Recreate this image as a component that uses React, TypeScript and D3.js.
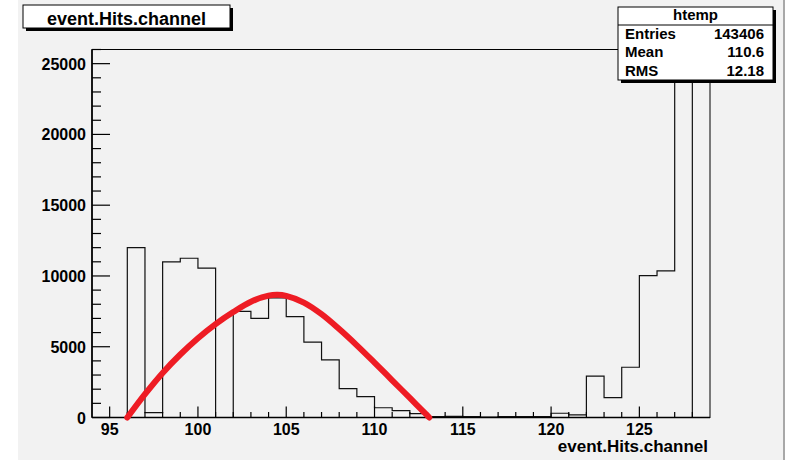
import React from 'react';
import * as d3 from 'd3';

// Histogram: unit bins starting at 94
const binStart = 94;
const binCounts = [
  0, 0, 12000, 350, 11000, 11250, 10550, 0, 7500, 7000,
  8450, 7130, 5320, 4070, 2040, 1470, 690, 480, 270, 60,
  80, 60, 30, 60, 60, 70, 300, 180, 2930, 1400,
  3550, 10030, 10360, 24760, 0,
];

// Fit curve
const fitX = [96.0, 97, 98, 99, 100, 101, 102, 103, 104, 104.5, 105, 106, 107, 108, 109, 110, 111, 112, 113, 113.1];
const fitY = [0, 1650, 3150, 4450, 5600, 6600, 7450, 8180, 8610, 8670, 8590, 8120, 7300, 6250, 5100, 3880, 2630, 1380, 130, 0];

const xTickValues = [95, 100, 105, 110, 115, 120, 125];
const yTickValues = [0, 5000, 10000, 15000, 20000, 25000];

const titleText = 'event.Hits.channel';
const xAxisTitle = 'event.Hits.channel';
const statsName = 'htemp';
const statsLabels = ['Entries', 'Mean', 'RMS'];
const statsValues = ['143406', '110.6', '12.18'];

const FONT = '"Liberation Sans", Arial, Helvetica, sans-serif';

export default function App() {
  const W = 788, H = 460;
  const fx0 = 92, fx1 = 710, fy0 = 49.5, fy1 = 417.5;
  const x = d3.scaleLinear().domain([94, 129]).range([fx0, fx1]);
  const y = d3.scaleLinear().domain([0, 26000]).range([fy1, fy0]);

  const histPts: [number, number][] = [];
  binCounts.forEach((v, i) => {
    histPts.push([binStart + i, v]);
    histPts.push([binStart + i + 1, v]);
  });
  const histLine = d3.line<[number, number]>()
    .x(d => x(d[0]))
    .y(d => y(Math.min(d[1], 26000)));
  const histPath = histLine([[binStart, 0], ...histPts, [binStart + binCounts.length, 0]]) || '';

  const fitPts: [number, number][] = fitX.map((v, i) => [v, fitY[i]]);
  const fitLine = d3.line<[number, number]>()
    .x(d => x(d[0]))
    .y(d => y(d[1]))
    .curve(d3.curveCatmullRom.alpha(0.5));
  const fitPath = fitLine(fitPts) || '';

  const xMinor = d3.range(95, 129);
  const yMinor = d3.range(0, 26001, 1000);

  // stats box geometry
  const sx0 = 618, sx1 = 773, sy0 = 7, sy1 = 80;
  // title box geometry
  const tx0 = 23, tx1 = 230, ty0 = 5, ty1 = 28;

  return (
    <svg width={W} height={H} style={{ position: 'absolute', left: 0, top: 0 }} fontFamily={FONT}>
      <rect x={0} y={0} width={W} height={H} fill="#ffffff" />
      <rect x={18} y={0} width={765} height={H} fill="#f2f2f2" />
      <line x1={784} x2={784} y1={0} y2={H} stroke="#a8a8a8" strokeWidth={2} />

      {/* frame */}
      <rect x={fx0} y={fy0} width={fx1 - fx0} height={fy1 - fy0} fill="none" stroke="#000" strokeWidth={1} />

      {/* histogram */}
      <path d={histPath} fill="none" stroke="#111" strokeWidth={1.2} />

      {/* axes */}
      <line x1={fx0} x2={fx1} y1={fy1} y2={fy1} stroke="#000" strokeWidth={1.6} />
      <line x1={fx0} x2={fx0} y1={fy0} y2={fy1} stroke="#000" strokeWidth={1.6} />

      {xMinor.map(v => (
        <line key={'xm' + v} x1={x(v)} x2={x(v)} y1={fy1} y2={fy1 - (v % 5 === 0 ? 11 : 5.5)} stroke="#000" strokeWidth={1.2} />
      ))}
      {yMinor.map(v => (
        <line key={'ym' + v} x1={fx0} x2={fx0 + (v % 5000 === 0 ? 18 : 9)} y1={y(v)} y2={y(v)} stroke="#000" strokeWidth={1.2} />
      ))}

      {xTickValues.map(v => (
        <text key={'xt' + v} x={x(v)} y={435} textAnchor="middle" fontSize={16} fontWeight="bold" fill="#000">{v}</text>
      ))}
      {yTickValues.map(v => (
        <text key={'yt' + v} x={86} y={y(v) + 6} textAnchor="end" fontSize={16} fontWeight="bold" fill="#000">{v}</text>
      ))}

      <text x={708} y={452} textAnchor="end" fontSize={17} fontWeight="bold" fill="#000">{xAxisTitle}</text>

      {/* fit */}
      <path d={fitPath} fill="none" stroke="#ee1c24" strokeWidth={6} strokeLinecap="round" />

      {/* stats box */}
      <rect x={sx0 + 3} y={sy0 + 3} width={sx1 - sx0} height={sy1 - sy0} fill="#000" />
      <rect x={sx0} y={sy0} width={sx1 - sx0} height={sy1 - sy0} fill="#fff" stroke="#000" strokeWidth={1} />
      <line x1={sx0} x2={sx1} y1={25} y2={25} stroke="#000" strokeWidth={1} />
      <text x={(sx0 + sx1) / 2} y={20} textAnchor="middle" fontSize={15} fontWeight="bold" fill="#000">{statsName}</text>
      {statsLabels.map((l, i) => (
        <g key={l}>
          <text x={625} y={38.5 + i * 18.5} fontSize={15} fontWeight="bold" fill="#000">{l}</text>
          <text x={764} y={38.5 + i * 18.5} textAnchor="end" fontSize={15} fontWeight="bold" fill="#000">{statsValues[i]}</text>
        </g>
      ))}

      {/* title box */}
      <rect x={tx0 + 3} y={ty0 + 3} width={tx1 - tx0} height={ty1 - ty0} fill="#000" />
      <rect x={tx0} y={ty0} width={tx1 - tx0} height={ty1 - ty0} fill="#fff" stroke="#000" strokeWidth={1} />
      <text x={(tx0 + tx1) / 2} y={24.5} textAnchor="middle" fontSize={18} fontWeight="bold" fill="#000">{titleText}</text>
    </svg>
  );
}
